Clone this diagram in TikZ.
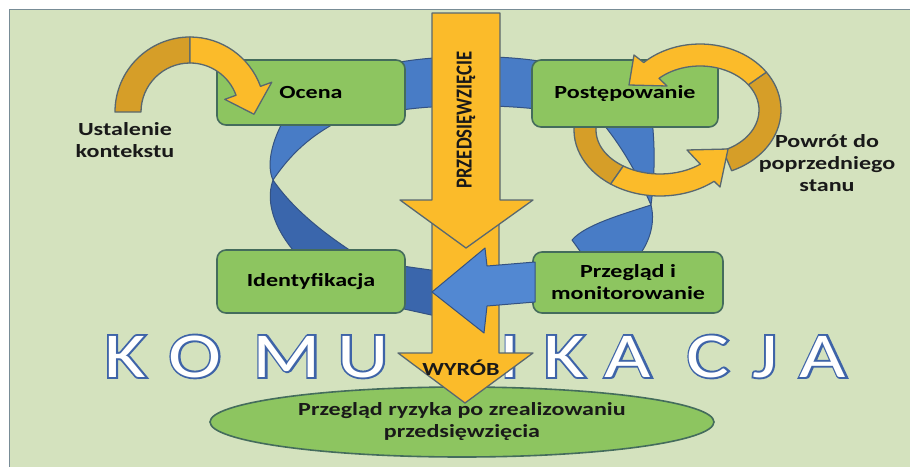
\documentclass[tikz,border=0pt]{standalone}
\usepackage{fontspec}
\usepackage{graphicx}
\setmainfont{Carlito}[FakeStretch=1.3]
\newfontfamily\bigletters{Carlito}[FakeStretch=1.25]
\newfontfamily\bigoutline{Carlito}[FakeStretch=1.25, FakeBold=6]
\usepackage{tikz}
\usetikzlibrary{calc, shapes.geometric}

\definecolor{bggreen}{RGB}{212,226,190}
\definecolor{framec}{RGB}{120,140,150}
\definecolor{boxgreen}{RGB}{141,197,96}
\definecolor{boxedge}{RGB}{68,108,92}
\definecolor{arrowyellow}{RGB}{251,187,42}
\definecolor{arrowgold}{RGB}{214,158,40}
\definecolor{arrowedge}{RGB}{88,104,112}
\definecolor{ringblue}{RGB}{72,124,198}
\definecolor{ringdark}{RGB}{58,102,172}
\definecolor{ringlight}{RGB}{82,136,210}
\definecolor{ringedge}{RGB}{52,82,130}
\definecolor{wordblue}{RGB}{62,100,168}

\newcommand\lblfont{\bfseries\fontsize{18.5}{22}\selectfont}

\begin{document}
\begin{tikzpicture}[
    x=1pt, y=-1pt,
    % pola procesu
    procbox/.style={
        draw=boxedge,
        fill=boxgreen,
        line width=1.6pt,
        rounded corners=9pt,
        align=center,
        inner sep=0pt,
        font=\lblfont
    },
    % strzalki blokowe
    yarrow/.style={fill=arrowyellow, draw=arrowedge, line width=1.3pt, line join=round},
    garrow/.style={fill=arrowgold, draw=arrowedge, line width=1.3pt, line join=round},
    ribbon/.style={fill=ringblue, draw=ringedge, line width=1pt, line join=round},
    lbl/.style={font=\lblfont, align=center, text=black!90},
    bigletter/.style={anchor=base, inner sep=0pt}
]
\useasboundingbox (0,0) rectangle (910,466);
\fill[white] (0,0) rectangle (910,466);
\draw[fill=bggreen, draw=framec, line width=1pt] (9,9) rectangle (916,472);

% =====================================================================
% PETLA (niebieska wstega)
% =====================================================================
\draw[ribbon] (390,64) .. controls (430,55) and (500,54) .. (545,62)
    -- (545,110) .. controls (500,104) and (430,104) .. (390,112) -- cycle;
\draw[ribbon] (285,118) .. controls (272,140) and (266,165) .. (273,180)
    .. controls (290,155) and (310,135) .. (345,118) -- cycle;
\draw[ribbon, fill=ringdark] (273,180) .. controls (264,205) and (278,235) .. (300,258)
    -- (362,258) .. controls (330,238) and (295,212) .. (273,180) -- cycle;
\draw[ribbon, fill=ringdark] (395,265) -- (445,272) -- (445,318) -- (395,307) -- cycle;
\draw[ribbon] (600,120) .. controls (625,150) and (640,180) .. (651,205)
    .. controls (655,175) and (655,145) .. (652,120) -- cycle;
\draw[ribbon] (651,205) .. controls (620,215) and (585,225) .. (572,240) -- (585,258)
    -- (637,258) .. controls (648,245) and (656,225) .. (651,205) -- cycle;

% =====================================================================
% POWROT - noga lewa (pod polem)
% =====================================================================
\coordinate (c3) at (660,130);
\draw[garrow] ($(c3)+(192:86 and 66)$) arc[start angle=192, end angle=125, x radius=86, y radius=66]
    -- ($(c3)+(125:64 and 44)$) arc[start angle=125, end angle=192, x radius=64, y radius=44] -- cycle;

% =====================================================================
% POLA
% =====================================================================
\node (ocena) [procbox, minimum width=188pt, minimum height=65pt] at (311,92.5) {Ocena};
\node (postep) [procbox, minimum width=186pt, minimum height=67pt] at (625,93.5) {Postępowanie};
\node (ident) [procbox, minimum width=188pt, minimum height=63pt] at (311,281.5) {Identyfikacja};
\node (przeglad) [procbox, minimum width=190pt, minimum height=61pt] at (628,282.5) {Przegląd i\\monitorowanie};

% =====================================================================
% USTALENIE KONTEKSTU
% =====================================================================
\coordinate (c1) at (190,112);
\draw[garrow] ($(c1)+(180:75)$) arc[start angle=180, end angle=270, radius=75]
    -- ($(c1)+(270:49)$) arc[start angle=270, end angle=180, radius=49] -- cycle;
\draw[yarrow] ($(c1)+(270:75)$) arc[start angle=270, end angle=340, radius=75]
    -- ($(c1)+(340:87)$) -- ($(c1)+(2:64)$) -- ($(c1)+(340:37)$)
    -- ($(c1)+(340:49)$) arc[start angle=340, end angle=270, radius=49] -- cycle;
\node (ustal) [lbl] at (125,140) {Ustalenie\\kontekstu};

% =====================================================================
% POWROT DO POPRZEDNIEGO STANU
% =====================================================================
\coordinate (c2) at (700,110);
\draw[garrow] ($(c2)+(-35:81 and 66)$) arc[start angle=-35, end angle=67, x radius=81, y radius=66]
    -- ($(c2)+(67:59 and 44)$) arc[start angle=67, end angle=-35, x radius=59, y radius=44] -- cycle;
\draw[yarrow] ($(c2)+(-35:81 and 66)$) arc[start angle=-35, end angle=-134, x radius=81, y radius=66]
    -- (634,55) -- (629,85) -- (667,86)
    -- ($(c2)+(-134:59 and 44)$) arc[start angle=-134, end angle=-35, x radius=59, y radius=44] -- cycle;
\draw[yarrow] ($(c3)+(125:86 and 66)$) arc[start angle=125, end angle=51, x radius=86, y radius=66]
    -- (720,187) -- (728,149) -- (687,150)
    -- ($(c3)+(51:64 and 44)$) arc[start angle=51, end angle=125, x radius=64, y radius=44] -- cycle;
\node (powrot) [lbl] at (827,163) {Powrót do\\poprzedniego\\stanu};

% =====================================================================
% KOMUNIKACJA
% =====================================================================
\foreach \ch/\px in {K/125, O/195, M/287, U/363, N/462, I/510, K/564, A/628, C/708, J/765, A/823} {
    \node[bigletter] at (\px,377) {\makebox[0pt]{\bigoutline\fontsize{64}{64}\selectfont\textcolor{wordblue}{\ch}}%
        \makebox[0pt]{\bigletters\fontsize{64}{64}\selectfont\textcolor{white}{\ch}}};
}

% =====================================================================
% PRZEGLAD RYZYKA + WYROB
% =====================================================================
\node (ryzyko) [ellipse, draw=boxedge, fill=boxgreen, line width=1.6pt, minimum width=504pt,
    minimum height=70pt, inner sep=0pt, lbl] at (462,422) {Przegląd ryzyka po zrealizowaniu\\przedsięwzięcia};
\draw[yarrow] (432,220) -- (499,220) -- (499,353) -- (533,353) -- (465,403) -- (398,353) -- (432,353) -- cycle;
\node (wyrob) [lbl] at (461,368) {WYRÓB};

% grot petli
\draw[ribbon, fill=ringlight] (535,262) -- (487,266) -- (485,248) -- (432,292) -- (484,333)
    -- (487,306) -- (535,302) -- cycle;

% =====================================================================
% PRZEDSIEWZIECIE
% =====================================================================
\draw[yarrow] (432,13) -- (500,13) -- (500,200) -- (533,200) -- (466,248) -- (400,200) -- (432,200) -- cycle;
\node (przeds) [rotate=90, font=\bfseries\fontsize{23}{23}\selectfont, text=black!90] at (466,120)
    {\resizebox{137pt}{15pt}{PRZEDSIĘWZIĘCIE}};

\end{tikzpicture}
\end{document}
